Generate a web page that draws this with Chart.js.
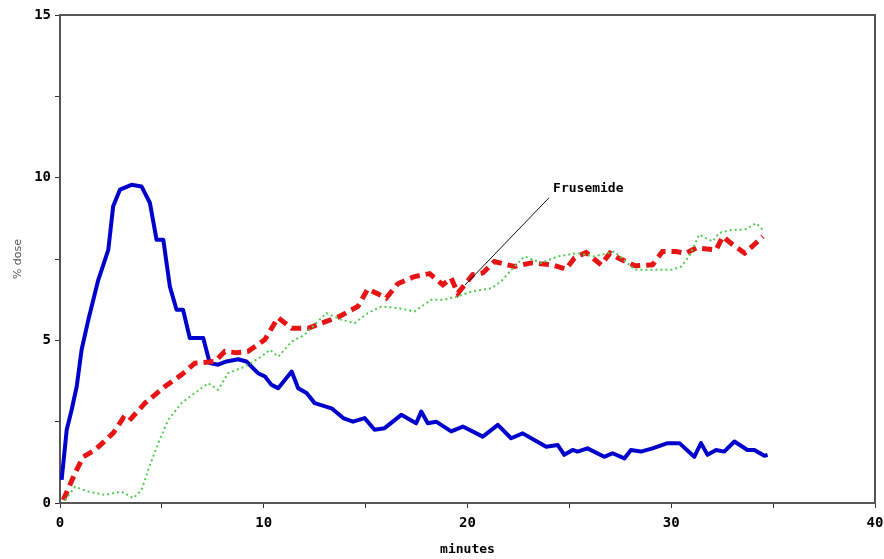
<!DOCTYPE html>
<html>
<head>
<meta charset="utf-8">
<title>% dose vs minutes</title>
<script src="https://cdn.jsdelivr.net/npm/chart.js@4/dist/chart.umd.min.js"></script>
<style>
  html, body { margin: 0; padding: 0; background: #fff; }
  canvas { display: block; }
</style>
</head>
<body>
<canvas id="chart" width="884" height="559"></canvas>
<script>
// blue solid curve
const blueTime = [0.08, 0.33, 0.57, 0.82, 1.06, 1.39, 1.88, 2.37, 2.61, 2.94, 3.51, 4.0, 4.41, 4.74, 5.07, 5.39, 5.72, 6.04, 6.37, 7.03, 7.35, 7.76, 8.17, 8.74, 9.15, 9.72, 10.06, 10.38, 10.71, 11.37, 11.69, 12.1, 12.5, 13.33, 13.9, 14.38, 14.95, 15.44, 15.93, 16.75, 17.48, 17.73, 18.05, 18.46, 19.2, 19.77, 20.75, 21.49, 22.14, 22.71, 23.28, 23.86, 24.43, 24.75, 25.16, 25.4, 25.89, 26.71, 27.12, 27.7, 28.02, 28.51, 29.08, 29.82, 30.4, 31.13, 31.46, 31.78, 32.2, 32.6, 33.1, 33.74, 34.08, 34.57, 34.73]
const blueDose = [0.71, 2.25, 2.86, 3.58, 4.71, 5.63, 6.86, 7.78, 9.12, 9.63, 9.78, 9.73, 9.23, 8.09, 8.09, 6.66, 5.94, 5.94, 5.07, 5.07, 4.3, 4.25, 4.35, 4.42, 4.35, 3.99, 3.89, 3.63, 3.53, 4.04, 3.53, 3.38, 3.07, 2.91, 2.61, 2.5, 2.61, 2.25, 2.3, 2.71, 2.45, 2.81, 2.45, 2.5, 2.2, 2.35, 2.04, 2.4, 1.99, 2.14, 1.94, 1.73, 1.78, 1.48, 1.63, 1.58, 1.68, 1.42, 1.53, 1.37, 1.63, 1.58, 1.68, 1.84, 1.84, 1.42, 1.84, 1.48, 1.63, 1.58, 1.89, 1.63, 1.63, 1.45, 1.48]

// red dashed curve (Frusemide)
const redTime = [0.16, 0.74, 1.14, 1.72, 2.61, 3.1, 3.35, 3.51, 4.17, 5.15, 5.96, 6.62, 7.6, 8.09, 8.66, 9.23, 10.05, 10.7, 11.37, 12.18, 12.83, 13.64, 14.62, 15.11, 16.01, 16.58, 17.4, 18.14, 18.79, 19.2, 19.53, 20.26, 20.75, 21.32, 22.3, 23.12, 24.18, 24.83, 25.25, 25.82, 26.56, 26.99, 27.4, 28.22, 29.08, 29.57, 30.23, 30.72, 31.24, 32.2, 32.53, 33.02, 33.6, 34.33, 34.5]
const redDose = [0.09, 0.92, 1.42, 1.63, 2.15, 2.61, 2.5, 2.61, 3.07, 3.58, 3.94, 4.3, 4.35, 4.66, 4.62, 4.66, 5.02, 5.7, 5.37, 5.37, 5.53, 5.71, 6.04, 6.58, 6.3, 6.74, 6.96, 7.05, 6.71, 6.91, 6.45, 7.02, 7.07, 7.42, 7.27, 7.38, 7.32, 7.19, 7.53, 7.7, 7.32, 7.68, 7.53, 7.29, 7.32, 7.73, 7.73, 7.68, 7.84, 7.78, 8.19, 7.94, 7.68, 8.09, 8.19]

// green dotted curve
const greenTime = [0.25, 0.74, 1.39, 2.2, 3.02, 3.6, 4.0, 4.33, 4.82, 5.31, 5.96, 6.62, 7.27, 7.76, 8.25, 9.07, 9.89, 10.3, 10.71, 11.37, 12.0, 13.07, 13.81, 14.46, 15.11, 15.77, 16.58, 17.4, 18.22, 18.87, 19.53, 20.18, 21.16, 21.65, 22.2, 22.8, 23.61, 24.43, 25.4, 26.22, 27.2, 28.22, 29.04, 30.02, 30.5, 30.9, 31.37, 32.03, 32.35, 33.02, 33.6, 34.17, 34.57]
const greenDose = [0.09, 0.5, 0.35, 0.25, 0.35, 0.15, 0.4, 1.02, 1.84, 2.55, 3.07, 3.38, 3.68, 3.48, 3.99, 4.19, 4.5, 4.71, 4.5, 4.96, 5.17, 5.84, 5.63, 5.53, 5.84, 6.04, 5.99, 5.89, 6.25, 6.25, 6.35, 6.5, 6.6, 6.81, 7.2, 7.58, 7.38, 7.58, 7.68, 7.58, 7.73, 7.17, 7.17, 7.17, 7.27, 7.6, 8.25, 8.04, 8.3, 8.4, 8.4, 8.6, 8.35]

const xTickLabels = [0, 10, 20, 30, 40]
const yTickLabels = [0, 5, 10, 15]

// callout for the red curve
const noteText = 'Frusemide'
const noteTarget = { x: 19.88, y: 6.7 }
const noteLabel = { x: 24.2, y: 9.66 }

const monoBold = { family: "'DejaVu Sans Mono', monospace", size: 14, weight: 'bold' }

function toPoints(times, doses) {
  return times.map((t, i) => ({ x: t, y: doses[i] }))
}

const framePlugin = {
  id: 'frame',
  afterDatasetsDraw(chart) {
    const { ctx, chartArea, scales } = chart
    ctx.save()
    // top and right border
    ctx.strokeStyle = '#555'
    ctx.lineWidth = 2
    ctx.beginPath()
    ctx.moveTo(chartArea.left, chartArea.top)
    ctx.lineTo(chartArea.right, chartArea.top)
    ctx.lineTo(chartArea.right, chartArea.bottom)
    ctx.stroke()

    // callout
    const lx = scales.x.getPixelForValue(noteLabel.x)
    const ly = scales.y.getPixelForValue(noteLabel.y)
    const tx = scales.x.getPixelForValue(noteTarget.x)
    const ty = scales.y.getPixelForValue(noteTarget.y)
    ctx.strokeStyle = '#111'
    ctx.lineWidth = 1
    ctx.beginPath()
    ctx.moveTo(lx - 4, ly + 9)
    ctx.lineTo(tx, ty)
    ctx.stroke()
    ctx.fillStyle = '#000'
    ctx.font = "bold 13px 'DejaVu Sans Mono', monospace"
    ctx.textBaseline = 'middle'
    ctx.textAlign = 'left'
    ctx.fillText(noteText, lx, ly)
    ctx.restore()
  }
}

new Chart(document.getElementById('chart'), {
  type: 'line',
  data: {
    datasets: [
      {
        data: toPoints(greenTime, greenDose),
        borderColor: 'rgb(80, 205, 80)',
        borderWidth: 2,
        borderDash: [2, 3],
        pointRadius: 0,
        tension: 0
      },
      {
        data: toPoints(redTime, redDose),
        borderColor: 'rgb(230, 20, 20)',
        borderWidth: 5,
        borderDash: [10, 6],
        pointRadius: 0,
        tension: 0
      },
      {
        data: toPoints(blueTime, blueDose),
        borderColor: 'rgb(0, 0, 205)',
        borderWidth: 4,
        borderJoinStyle: 'round',
        pointRadius: 0,
        tension: 0
      }
    ]
  },
  options: {
    responsive: false,
    animation: false,
    layout: { padding: { top: 15, right: 9, left: 0, bottom: 0 } },
    plugins: {
      legend: { display: false },
      tooltip: { enabled: false }
    },
    scales: {
      x: {
        type: 'linear',
        min: 0,
        max: 40,
        afterFit: (scale) => {
          scale.height = 56
          scale.paddingRight = 0
        },
        border: { color: '#555', width: 2 },
        grid: { drawOnChartArea: false, tickLength: 5, color: '#333' },
        ticks: {
          stepSize: 5,
          padding: 7,
          color: '#000',
          font: monoBold,
          maxRotation: 0,
          callback: (v) => xTickLabels.includes(v) ? String(v) : ''
        },
        title: {
          display: true,
          text: 'minutes',
          color: '#000',
          font: { ...monoBold, size: 13 },
          padding: { top: 0, bottom: 2 }
        }
      },
      y: {
        min: 0,
        max: 15,
        afterFit: (scale) => { scale.width = 60 },
        border: { color: '#555', width: 2 },
        grid: { drawOnChartArea: false, tickLength: 5, color: '#333' },
        ticks: {
          stepSize: 2.5,
          padding: 4,
          color: '#000',
          font: monoBold,
          callback: (v) => yTickLabels.includes(v) ? String(v) : ''
        },
        title: {
          display: true,
          text: '% dose',
          color: '#555',
          font: { family: "'DejaVu Sans', sans-serif", size: 11 },
          padding: { top: 12, bottom: 0 }
        }
      }
    }
  },
  plugins: [framePlugin]
})
</script>
</body>
</html>
